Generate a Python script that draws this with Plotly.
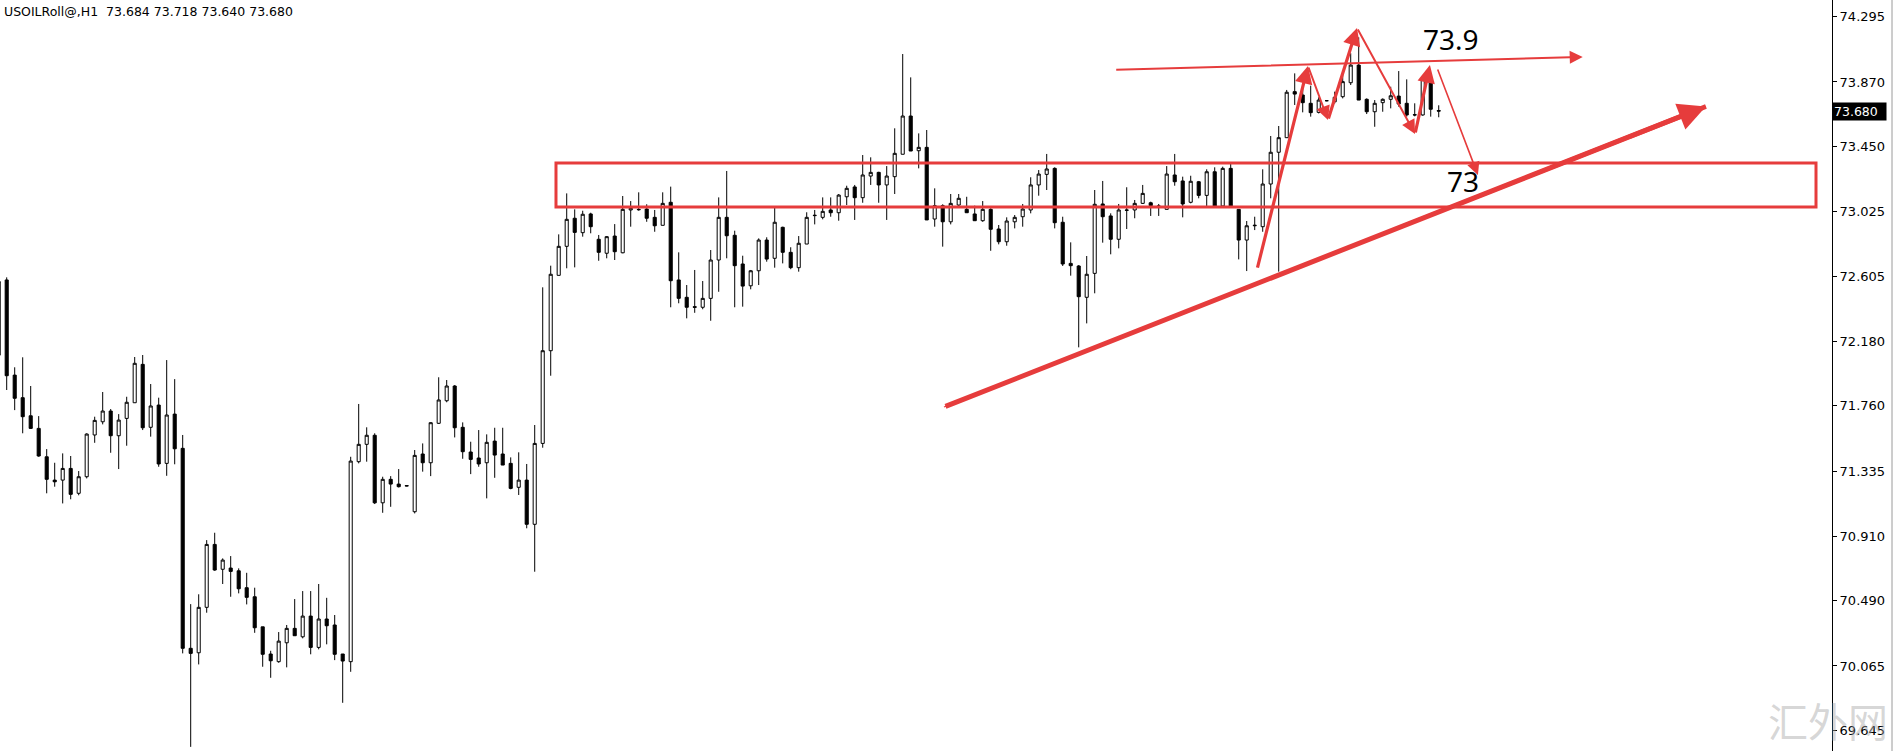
"""
USOILRoll@ H1 — свечи + ручная разметка (зона, тренд, зигзаг)
"""
import plotly.graph_objects as go

RED = "#e63c3c"

# ---- данные свечей (индекс бара 0..180) ----
opens = [
    72.090, 72.580, 71.960, 71.813, 71.695, 71.613, 71.428, 71.276, 71.276, 71.352,
    71.190, 71.298, 71.570, 71.656, 71.726, 71.565, 71.678, 71.780, 72.030, 71.620,
    71.765, 71.385, 71.706, 71.483, 70.180, 70.151, 70.447, 70.857, 70.695, 70.703,
    70.685, 70.575, 70.516, 70.320, 70.143, 70.093, 70.216, 70.310, 70.255, 70.390,
    70.186, 70.371, 70.332, 70.143, 70.093, 71.396, 71.509, 71.568, 71.128, 71.281,
    71.250, 71.237, 71.070, 71.446, 71.389, 71.646, 71.793, 71.889, 71.620, 71.459,
    71.420, 71.389, 71.530, 71.446, 71.385, 71.229, 71.276, 70.988, 71.515, 72.119,
    72.610, 72.799, 72.982, 72.888, 73.010, 72.845, 72.754, 72.866, 72.757, 73.036,
    73.040, 73.042, 72.988, 72.936, 73.086, 72.580, 72.467, 72.406, 72.402, 72.460,
    72.710, 72.988, 72.871, 72.684, 72.542, 72.640, 72.840, 72.721, 72.923, 72.760,
    72.660, 72.814, 72.999, 72.988, 73.036, 73.018, 73.122, 73.186, 73.116, 73.257,
    73.281, 73.199, 73.253, 73.399, 73.648, 73.422, 73.444, 72.977, 73.064, 72.959,
    73.068, 73.040, 73.010, 72.966, 73.040, 72.912, 72.829, 72.959, 72.992, 73.036,
    73.199, 73.268, 73.307, 72.956, 72.688, 72.671, 72.467, 72.623, 73.075, 72.997,
    72.845, 73.036, 73.036, 73.079, 73.083, 73.062, 73.040, 73.264, 73.225, 73.086,
    73.220, 73.131, 73.285, 73.062, 73.307, 73.040, 72.840, 72.933, 72.927, 73.205,
    73.412, 73.507, 73.807, 73.785, 73.731, 73.672, 73.748, 73.741, 73.774, 73.865,
    73.980, 73.757, 73.676, 73.735, 73.757, 73.778, 73.731, 73.657, 73.655, 73.878,
    73.684,
]
highs = [
    72.590, 72.597, 72.011, 72.076, 71.889, 71.693, 71.478, 71.389, 71.450, 71.433,
    71.335, 71.581, 71.689, 71.850, 71.739, 71.706, 71.819, 72.078, 72.091, 71.902,
    71.813, 72.058, 71.934, 71.570, 70.468, 70.532, 70.885, 70.933, 70.766, 70.781,
    70.701, 70.672, 70.575, 70.320, 70.164, 70.286, 70.332, 70.501, 70.553, 70.553,
    70.599, 70.509, 70.397, 70.143, 71.428, 71.772, 71.620, 71.581, 71.298, 71.302,
    71.348, 71.240, 71.472, 71.515, 71.652, 71.946, 71.928, 71.895, 71.652, 71.526,
    71.602, 71.574, 71.617, 71.617, 71.424, 71.457, 71.381, 71.635, 72.532, 72.673,
    72.877, 73.144, 73.040, 73.031, 73.018, 72.873, 72.866, 72.944, 73.127, 73.094,
    73.151, 73.073, 73.036, 73.151, 73.188, 72.760, 72.547, 72.645, 72.573, 72.775,
    73.118, 73.290, 72.901, 72.738, 72.645, 72.851, 72.858, 73.051, 72.927, 72.793,
    72.866, 73.021, 73.036, 73.118, 73.118, 73.140, 73.194, 73.199, 73.394, 73.379,
    73.285, 73.322, 73.568, 74.052, 73.900, 73.535, 73.557, 73.177, 73.073, 73.140,
    73.140, 73.122, 73.064, 73.094, 73.047, 72.938, 72.988, 73.003, 73.075, 73.249,
    73.296, 73.401, 73.314, 72.992, 72.825, 72.677, 72.736, 73.166, 73.225, 73.014,
    73.075, 73.184, 73.101, 73.199, 73.090, 73.075, 73.322, 73.401, 73.253, 73.259,
    73.225, 73.301, 73.314, 73.318, 73.340, 73.040, 72.964, 72.992, 73.301, 73.518,
    73.583, 73.818, 73.926, 73.839, 73.846, 73.770, 73.752, 73.807, 73.948, 74.057,
    74.161, 73.763, 73.752, 73.763, 73.839, 73.941, 73.887, 73.731, 73.915, 73.894,
    73.718,
]
lows = [
    72.060, 71.863, 71.732, 71.581, 71.610, 71.428, 71.190, 71.233, 71.124, 71.151,
    71.177, 71.287, 71.519, 71.639, 71.454, 71.348, 71.500, 71.780, 71.602, 71.559,
    71.363, 71.304, 71.379, 70.147, 69.538, 70.075, 70.412, 70.685, 70.599, 70.516,
    70.538, 70.466, 70.281, 70.060, 69.988, 70.086, 70.056, 70.262, 70.245, 70.141,
    70.173, 70.206, 70.103, 69.825, 70.027, 71.385, 71.396, 71.120, 71.063, 71.102,
    71.228, 71.235, 71.059, 71.331, 71.302, 71.642, 71.783, 71.554, 71.415, 71.315,
    71.363, 71.157, 71.291, 71.374, 71.216, 71.179, 70.962, 70.679, 71.487, 71.956,
    72.610, 72.656, 72.662, 72.862, 72.884, 72.705, 72.721, 72.710, 72.754, 72.927,
    73.031, 72.959, 72.894, 72.936, 72.402, 72.428, 72.330, 72.366, 72.389, 72.314,
    72.503, 72.721, 72.402, 72.406, 72.519, 72.547, 72.699, 72.660, 72.688, 72.650,
    72.634, 72.814, 72.942, 72.975, 72.992, 72.966, 73.068, 72.971, 73.083, 73.199,
    73.083, 72.971, 73.140, 73.399, 73.420, 73.307, 72.971, 72.927, 72.797, 72.942,
    73.062, 73.018, 72.966, 72.959, 72.770, 72.812, 72.803, 72.916, 72.927, 73.014,
    73.129, 73.166, 72.916, 72.671, 72.608, 72.141, 72.297, 72.493, 72.823, 72.747,
    72.786, 72.912, 72.982, 73.075, 72.997, 72.997, 73.040, 73.194, 72.988, 73.079,
    73.112, 73.062, 73.062, 73.062, 73.062, 72.714, 72.638, 72.905, 72.894, 73.112,
    72.634, 73.507, 73.720, 73.672, 73.644, 73.665, 73.744, 73.730, 73.763, 73.850,
    73.752, 73.661, 73.578, 73.676, 73.698, 73.709, 73.644, 73.646, 73.650, 73.644,
    73.640,
]
closes = [
    72.570, 71.956, 71.809, 71.689, 71.613, 71.433, 71.281, 71.265, 71.352, 71.183,
    71.298, 71.576, 71.665, 71.726, 71.565, 71.667, 71.783, 72.037, 71.617, 71.759,
    71.381, 71.700, 71.480, 70.180, 70.147, 70.447, 70.857, 70.690, 70.755, 70.681,
    70.568, 70.512, 70.314, 70.141, 70.099, 70.227, 70.310, 70.262, 70.390, 70.186,
    70.371, 70.327, 70.141, 70.097, 71.400, 71.509, 71.568, 71.128, 71.281, 71.250,
    71.233, 71.240, 71.437, 71.389, 71.650, 71.798, 71.889, 71.617, 71.461, 71.411,
    71.381, 71.522, 71.439, 71.374, 71.222, 71.276, 70.988, 71.515, 72.119, 72.617,
    72.799, 72.975, 72.890, 73.008, 72.927, 72.760, 72.862, 72.764, 73.040, 73.047,
    73.038, 72.982, 72.933, 73.079, 72.575, 72.460, 72.402, 72.402, 72.460, 72.710,
    72.988, 72.868, 72.673, 72.540, 72.640, 72.840, 72.716, 72.956, 72.760, 72.660,
    72.819, 72.988, 73.001, 73.027, 73.018, 73.133, 73.177, 73.116, 73.264, 73.281,
    73.199, 73.257, 73.405, 73.648, 73.420, 73.444, 72.971, 73.064, 72.959, 73.079,
    73.112, 73.018, 72.966, 73.040, 72.910, 72.829, 72.964, 72.988, 73.042, 73.199,
    73.270, 73.303, 72.953, 72.684, 72.673, 72.471, 72.617, 73.073, 72.992, 72.845,
    73.036, 73.034, 73.079, 73.144, 73.064, 73.060, 73.270, 73.220, 73.075, 73.223,
    73.131, 73.285, 73.062, 73.307, 73.062, 72.840, 72.933, 72.936, 73.205, 73.412,
    73.507, 73.803, 73.791, 73.735, 73.670, 73.752, 73.748, 73.770, 73.872, 73.980,
    73.752, 73.676, 73.731, 73.757, 73.780, 73.726, 73.655, 73.655, 73.887, 73.692,
    73.680,
]
bars = list(range(len(opens)))

# ---- ось цены ----
price_ticks = [74.295, 73.870, 73.450, 73.025, 72.605, 72.180,
               71.760, 71.335, 70.910, 70.490, 70.065, 69.645]
last_price = 73.680

# ---- разметка ----
zone_low, zone_high = 73.055, 73.342
zone_start, zone_end = 69.66, 227.16

trend_from = (118.16, 71.752)
trend_to = (213.4, 73.710)

top_line_from = (139.5, 73.950)
top_line_to = (198.0, 74.033)

zig_x = [157.3, 163.66, 166.16, 169.79, 177.04, 178.9]
zig_y = [72.651, 73.974, 73.622, 74.222, 73.531, 73.980]
drop_from = (179.8, 73.961)
drop_to = (184.9, 73.264)

label_hi = (181.5, 74.150, "73.9")
label_lo = (183.0, 73.225, "73")


fig = go.Figure()

fig.add_trace(go.Candlestick(
    x=bars, open=opens, high=highs, low=lows, close=closes,
    increasing=dict(line=dict(color="black", width=1), fillcolor="white"),
    decreasing=dict(line=dict(color="black", width=1), fillcolor="black"),
    whiskerwidth=0,
    showlegend=False,
    hoverinfo="skip",
))

shapes = [
    dict(type="rect", xref="x", yref="y",
         x0=zone_start, x1=zone_end, y0=zone_low, y1=zone_high,
         line=dict(color=RED, width=3), fillcolor="rgba(0,0,0,0)"),
    # правая рамка окна
    dict(type="line", xref="paper", yref="paper",
         x0=1892 / 1832, x1=1892 / 1832, y0=0, y1=1,
         line=dict(color="#9a9a9a", width=1)),
]

# трендовая линия — утолщается к концу
n_seg = 10
dx = trend_to[0] - trend_from[0]
dy = trend_to[1] - trend_from[1]
for k in range(n_seg):
    t0, t1 = k / n_seg, (k + 1) / n_seg
    shapes.append(dict(
        type="line", xref="x", yref="y",
        x0=trend_from[0] + dx * t0, y0=trend_from[1] + dy * t0,
        x1=trend_from[0] + dx * t1, y1=trend_from[1] + dy * t1,
        line=dict(color=RED, width=1.2 + 3.8 * t0),
    ))


def arrow(tail, head, width, size=1.0):
    return dict(
        x=head[0], y=head[1], ax=tail[0], ay=tail[1],
        xref="x", yref="y", axref="x", ayref="y",
        text="", showarrow=True, arrowhead=2,
        arrowwidth=width, arrowsize=size, arrowcolor=RED,
    )


annotations = [
    arrow(trend_from, trend_to, 5, 1.1),
    arrow(top_line_from, top_line_to, 2, 1.3),
]
for k in range(len(zig_x) - 1):
    up = zig_y[k + 1] > zig_y[k]
    annotations.append(arrow((zig_x[k], zig_y[k]), (zig_x[k + 1], zig_y[k + 1]),
                             3.2 if up else 2, 1.1 if up else 1.4))
annotations.append(arrow(drop_from, drop_to, 1.6, 1.6))

for lx, ly, txt in (label_hi, label_lo):
    annotations.append(dict(x=lx, y=ly, xref="x", yref="y", text=txt,
                            showarrow=False, xanchor="center", yanchor="middle",
                            font=dict(family="Noto Sans", size=28, color="black")))

annotations += [
    dict(x=0, y=1, xref="paper", yref="paper", xanchor="left", yanchor="top",
         xshift=2, yshift=-2, showarrow=False,
         text="USOILRoll@,H1  73.684 73.718 73.640 73.680",
         font=dict(family="DejaVu Sans", size=12.5, color="black")),
    dict(x=1, y=last_price, xref="paper", yref="y", xanchor="left", yanchor="middle",
         xshift=0, showarrow=False, text=f"{last_price:.3f}",
         bgcolor="black", borderpad=1, width=51, align="left",
         font=dict(family="DejaVu Sans", size=12.5, color="white")),
    dict(x=1828 / 1832, y=(751 - 720) / 751, xref="paper", yref="paper",
         xanchor="center", yanchor="middle",
         showarrow=False, text="汇外网",
         font=dict(family="Noto Sans CJK SC", size=40, color="rgba(165,165,165,0.45)")),
]

fig.update_layout(
    width=1897, height=751,
    margin=dict(l=0, r=65, t=0, b=0, autoexpand=False),
    paper_bgcolor="white", plot_bgcolor="white",
    boxgap=0.45,
    shapes=shapes,
    annotations=annotations,
    xaxis=dict(range=[0.1625, 229.16], showticklabels=False, showgrid=False,
               zeroline=False, rangeslider=dict(visible=False), fixedrange=True,
               automargin=False),
    yaxis=dict(range=[69.511, 74.404], side="right", showgrid=False, zeroline=False,
               showline=True, linecolor="black", linewidth=1, automargin=False,
               ticks="outside", ticklen=4, tickcolor="black",
               tickvals=price_ticks, ticktext=[f"{v:.3f}" for v in price_ticks],
               tickfont=dict(family="DejaVu Sans", size=13, color="black")),
)

# у страницы по умолчанию отступ body 8px — убираем, чтобы график лёг в окно
fig.write_html("out.html", config={"displayModeBar": False},
               post_script="document.body.style.margin='0';")
